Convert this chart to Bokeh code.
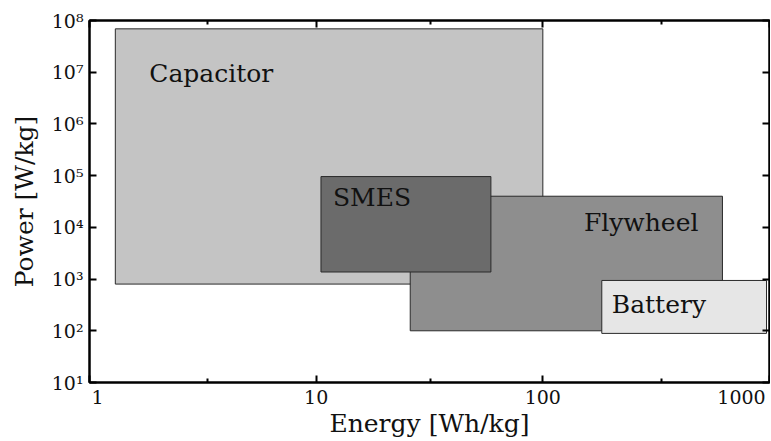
import math
from bokeh.plotting import figure
from bokeh.models import FixedTicker, LogAxis, LinearAxis, Label, Range1d, LinearScale
from bokeh.embed import file_html
from bokeh.resources import INLINE

# ---- data ----
names = ["Capacitor", "Flywheel", "SMES", "Battery"]
energy_min = [1.3, 26, 10.5, 182]          # Wh/kg
energy_max = [100, 620, 59, 970]           # Wh/kg
power_min = [800, 100, 1370, 89]           # W/kg
power_max = [6.9e7, 4.0e4, 9.6e4, 940]     # W/kg
fills = ["#c4c4c4", "#8e8e8e", "#6b6b6b", "#e6e6e6"]

x_ticks = [1, 10, 100, 1000]
x_minor_ticks = [3.3, 32, 333]
x_tick_labels = ["1", "10", "100", "1000"]
y_ticks = [10, 100, 1000, 10000, 100000, 1000000, 10000000, 100000000]
y_tick_labels = ["10¹", "10²", "10³", "10⁴", "10⁵", "10⁶", "10⁷", "10⁸"]

FONT = "DejaVu Serif"
W, H = 770, 440
BORDER_L, BORDER_R = 89, 1
FRAME_W = W - BORDER_L - BORDER_R
X0, X1 = 1, 1000

p = figure(width=W, height=H, x_axis_type="log", y_axis_type="log",
           x_range=(X0, X1), y_range=(10, 1e8),
           output_backend="svg", toolbar_location=None,
           min_border_left=BORDER_L, min_border_right=BORDER_R,
           min_border_top=20, min_border_bottom=58)
p.xgrid.visible = False
p.ygrid.visible = False
p.outline_line_color = "black"
p.outline_line_width = 2
p.background_fill_color = "white"

p.quad(left=energy_min, right=energy_max, bottom=power_min, top=power_max,
       fill_color=fills, line_color="#2a2a2a", line_width=1)

def style_axis(ax):
    ax.axis_line_width = 2
    ax.axis_line_color = "black"
    ax.major_tick_in = 7
    ax.major_tick_out = 0
    ax.minor_tick_in = 4
    ax.minor_tick_out = 0
    ax.major_tick_line_width = 2
    ax.minor_tick_line_width = 2
    ax.major_tick_line_color = "black"
    ax.minor_tick_line_color = "black"
    ax.major_label_text_font = FONT
    ax.major_label_text_font_size = "19px"
    ax.major_label_text_color = "#111111"
    ax.axis_label_text_font = FONT
    ax.axis_label_text_font_size = "25px"
    ax.axis_label_text_font_style = "normal"
    ax.axis_label_text_color = "#111111"

def hide_labels(ax, ticks):
    ax.major_label_overrides = {t: "" for t in ticks}
    ax.major_label_text_font_size = "0px"
    ax.major_label_standoff = 0

# bottom axis: ticks only
xa = p.below[0]
style_axis(xa)
xa.ticker = FixedTicker(ticks=x_ticks, minor_ticks=x_minor_ticks)
hide_labels(xa, x_ticks)

# tick-label row: end labels kept inside the frame, as in the reference
label_shift_px = [8, 0, 0, -28]
label_pos = [math.log10(t / X0) / math.log10(X1 / X0) * FRAME_W + s
             for t, s in zip(x_ticks, label_shift_px)]
p.extra_x_ranges = {"xlabels": Range1d(0, FRAME_W)}
p.extra_x_scales = {"xlabels": LinearScale()}
lab_ax = LinearAxis(x_range_name="xlabels",
                    ticker=FixedTicker(ticks=label_pos, minor_ticks=[]))
style_axis(lab_ax)
lab_ax.axis_line_alpha = 0
lab_ax.major_tick_in = 0
lab_ax.minor_tick_in = 0
lab_ax.major_label_overrides = dict(zip(label_pos, x_tick_labels))
lab_ax.major_label_standoff = 7
lab_ax.axis_label = "Energy [Wh/kg]"
lab_ax.axis_label_standoff = 2
p.add_layout(lab_ax, "below")

ya = p.left[0]
style_axis(ya)
ya.ticker = FixedTicker(ticks=y_ticks, minor_ticks=[])
ya.major_label_overrides = dict(zip(y_ticks, y_tick_labels))
ya.major_label_standoff = 6
ya.axis_label = "Power [W/kg]"
ya.axis_label_standoff = 10

# mirrored ticks on top and right
top_ax = LogAxis(ticker=FixedTicker(ticks=x_ticks, minor_ticks=x_minor_ticks))
style_axis(top_ax)
hide_labels(top_ax, x_ticks)
p.add_layout(top_ax, "above")

right_ax = LogAxis(ticker=FixedTicker(ticks=y_ticks, minor_ticks=[]))
style_axis(right_ax)
hide_labels(right_ax, y_ticks)
p.add_layout(right_ax, "right")

# region names
name_anchor_x = [energy_min[0], energy_max[1], energy_min[2], energy_min[3]]
name_dx = [34, -24, 12, 10]
name_dy = [-45, -26, -21, -24]
name_align = ["left", "right", "left", "left"]
for i, n in enumerate(names):
    p.add_layout(Label(x=name_anchor_x[i], y=power_max[i], text=n,
                       x_offset=name_dx[i], y_offset=name_dy[i],
                       text_align=name_align[i], text_baseline="alphabetic",
                       text_font=FONT, text_font_size="25px",
                       text_color="#111111"))

open("out.html", "w").write(file_html(p, INLINE))
